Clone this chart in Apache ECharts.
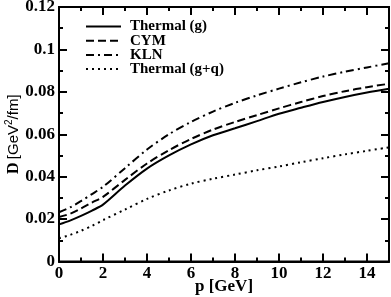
<!DOCTYPE html>
<html>
<head>
<meta charset="utf-8">
<script src="https://cdn.jsdelivr.net/npm/echarts@6/dist/echarts.min.js"></script>
<style>html,body{margin:0;padding:0;background:#fff;}#c{width:391px;height:297px;}</style>
</head>
<body>
<div id="c"></div>
<script>
const pValues = [0, 0.5, 1, 1.5, 2, 3, 4, 5, 6, 7, 8, 9, 10, 11, 12, 13, 14, 15];
const thermalG = [0.0175, 0.0193, 0.0215, 0.0240, 0.0268, 0.0358, 0.0438, 0.0500, 0.0552, 0.0595, 0.0628, 0.0662, 0.0697, 0.0725, 0.0752, 0.0776, 0.0797, 0.0815];
const cym = [0.0210, 0.0225, 0.0250, 0.0278, 0.0305, 0.0385, 0.0462, 0.0525, 0.0578, 0.0622, 0.0658, 0.0690, 0.0722, 0.0752, 0.0780, 0.0803, 0.0822, 0.0838];
const kln = [0.0232, 0.0255, 0.0285, 0.0318, 0.0352, 0.0440, 0.0528, 0.0600, 0.0658, 0.0707, 0.0748, 0.0783, 0.0815, 0.0845, 0.0872, 0.0895, 0.0915, 0.0935];
const thermalGQ = [0.0110, 0.0125, 0.0145, 0.0168, 0.0195, 0.0245, 0.0295, 0.0335, 0.0367, 0.0390, 0.0410, 0.0430, 0.0448, 0.0468, 0.0487, 0.0505, 0.0522, 0.0538];
const seriesNames = ['Thermal (g)', 'CYM', 'KLN', 'Thermal (g+q)'];
const xTicks = { min: 0, max: 15, major: 2 };
const yTicks = { min: 0, max: 0.12, major: 0.02 };

const serif = 'Liberation Serif';
const sans = 'Liberation Sans';
const pair = arr => pValues.map((p, i) => [p, arr[i]]);

const chart = echarts.init(document.getElementById('c'), null, { renderer: 'canvas' });
const lineAx = { show: true, onZero: false, lineStyle: { color: '#000', width: 2 } };
function xAx(pos, labels) {
  return {
    type: 'value', position: pos, min: xTicks.min, max: xTicks.max, interval: xTicks.major,
    axisLine: lineAx,
    axisTick: { show: true, inside: true, length: 8, lineStyle: { color: '#000', width: 2 } },
    minorTick: { show: true, splitNumber: 2, length: 4, lineStyle: { color: '#000', width: 2 } },
    axisLabel: labels ? { show: true, showMaxLabel: false, margin: 4, color: '#000', fontFamily: serif, fontWeight: 'bold', fontSize: 17 } : { show: false },
    splitLine: { show: false }, minorSplitLine: { show: false },
    name: labels ? 'p [GeV]' : '', nameLocation: 'middle', nameGap: 17, nameMoveOverlap: false,
    nameTextStyle: { color: '#000', fontFamily: serif, fontWeight: 'bold', fontSize: 17 }
  };
}
function yAx(pos, labels) {
  return {
    type: 'value', position: pos, min: yTicks.min, max: yTicks.max, interval: yTicks.major,
    axisLine: lineAx,
    axisTick: { show: true, inside: true, length: 8, lineStyle: { color: '#000', width: 2 } },
    minorTick: { show: true, splitNumber: 2, length: 4, lineStyle: { color: '#000', width: 2 } },
    axisLabel: labels ? { show: true, margin: 4, color: '#000', fontFamily: serif, fontWeight: 'bold', fontSize: 17,
      formatter: v => v === 0 ? '0' : String(+v.toFixed(2)) } : { show: false },
    splitLine: { show: false }, minorSplitLine: { show: false },
    name: labels ? '{b|D} {s|[GeV}{sup|2}{s|/fm]}' : '', nameLocation: 'middle', nameRotate: 90, nameGap: 35, nameMoveOverlap: false,
    nameTextStyle: {
      color: '#000',
      rich: {
        b: { fontFamily: serif, fontWeight: 'bold', fontSize: 16, lineHeight: 20, color: '#000' },
        s: { fontFamily: sans, fontSize: 15, lineHeight: 20, color: '#000' },
        sup: { fontFamily: sans, fontSize: 10, lineHeight: 20, verticalAlign: 'top', color: '#000' }
      }
    }
  };
}
const styles = [
  { type: 'solid', width: 2 },
  { type: [8, 4], width: 2 },
  { type: [8, 4, 2, 4], width: 2 },
  { type: [2, 4], width: 2 }
];
const datas = [thermalG, cym, kln, thermalGQ];
chart.setOption({
  animation: false,
  backgroundColor: '#fff',
  grid: {
    left: 59, right: 2, top: 7, bottom: 35.5, containLabel: false,
    outerBounds: { left: -60, top: -60, right: -60, bottom: -60 },
    show: true, borderColor: '#000', borderWidth: 2, backgroundColor: 'transparent'
  },
  legend: {
    show: true, orient: 'vertical', left: 85, top: 19, padding: 0,
    itemWidth: 35, itemHeight: 10, itemGap: -0.8,
    itemStyle: { opacity: 0 },
    textStyle: { color: '#000', fontFamily: serif, fontWeight: 'bold', fontSize: 15, lineHeight: 14, padding: [0, 0, 0, 4] },
    data: seriesNames
  },
  xAxis: [xAx('bottom', true), xAx('top', false)],
  yAxis: [yAx('left', true), yAx('right', false)],
  series: datas.map((d, i) => ({
    name: seriesNames[i], type: 'line', xAxisIndex: 0, yAxisIndex: 0,
    data: pair(d), showSymbol: false, symbol: 'none', smooth: 0.3,
    color: '#000', itemStyle: { color: '#000' },
    lineStyle: { color: '#000', width: styles[i].width, type: styles[i].type }
  }))
});
</script>
</body>
</html>
